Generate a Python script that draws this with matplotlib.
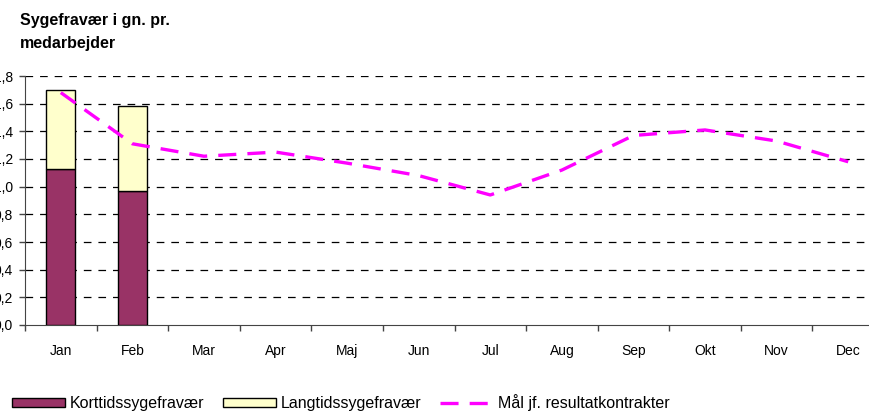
#!/usr/bin/env python3
import matplotlib
matplotlib.use("Agg")
import matplotlib.pyplot as plt
import numpy as np

# Data (sick days per employee)
months = ["Jan", "Feb", "Mar", "Apr", "Maj", "Jun", "Jul", "Aug", "Sep", "Okt", "Nov", "Dec"]
korttid = [1.13, 0.97]   # short-term absence (only Jan, Feb reported)
langtid = [0.57, 0.61]   # long-term absence
maal = [1.68, 1.31, 1.22, 1.25, 1.17, 1.08, 0.94, 1.12, 1.37, 1.41, 1.33, 1.18]
yticks = [0.0, 0.2, 0.4, 0.6, 0.8, 1.0, 1.2, 1.4, 1.6, 1.8]

C_KORT = "#993366"
C_LANG = "#FFFFCC"
C_MAAL = "#FF00FF"


def main():
    plt.rcParams["font.family"] = ["Liberation Sans", "DejaVu Sans"]
    plt.rcParams["lines.scale_dashes"] = False

    fig = plt.figure(figsize=(8.69, 4.12), dpi=100)
    # plot area runs slightly past both figure edges, like the cropped original
    ax = fig.add_axes([25 / 869, 87 / 412, 859 / 869, 249 / 412])

    x = np.arange(len(months))
    xb = x[:len(korttid)]

    b1 = ax.bar(xb, korttid, width=0.41, color=C_KORT, edgecolor="black", linewidth=1,
                label="Korttidssygefravær", zorder=3)
    b2 = ax.bar(xb, langtid, width=0.41, bottom=korttid, color=C_LANG, edgecolor="black",
                linewidth=1, label="Langtidssygefravær", zorder=3)
    l1, = ax.plot(x, maal, color=C_MAAL, linewidth=2.4, dashes=(13, 8),
                  label="Mål jf. resultatkontrakter", zorder=4)

    ax.set_xlim(-0.5, len(months) - 0.5)
    ax.set_ylim(0, 1.8)
    ax.set_yticks(yticks)
    ax.set_yticklabels([f"{v:.1f}".replace(".", ",") for v in yticks], fontsize=10)

    # category labels centred, tick marks on the boundaries
    ax.set_xticks(x)
    ax.set_xticklabels(months, fontsize=10)
    ax.set_xticks(np.arange(-0.5, len(months), 1.0), minor=True)
    ax.tick_params(axis="x", which="major", length=0, pad=14)
    ax.tick_params(axis="x", which="minor", length=4, width=1, color="#444444")
    ax.tick_params(axis="y", length=4, width=1, pad=4.5, color="#444444")

    for v in yticks[1:]:
        ax.axhline(v, color="black", linewidth=0.9, dashes=(5.5, 5), zorder=1)

    for side in ["top", "right"]:
        ax.spines[side].set_visible(False)
    ax.spines["left"].set_color("#444444")
    ax.spines["bottom"].set_color("#444444")

    # two-line title, top left
    fig.text(20 / 869, 1 - 25 / 412, "Sygefravær i gn. pr.", fontsize=11.5,
             fontweight="bold", va="baseline", ha="left")
    fig.text(20 / 869, 1 - 48 / 412, "medarbejder", fontsize=11.5,
             fontweight="bold", va="baseline", ha="left")

    fig.legend(handles=[b1, b2, l1], loc="center left", bbox_to_anchor=(12 / 869, 9 / 412),
               ncol=3, frameon=False, fontsize=11.5, handlelength=3.3, handleheight=0.5,
               handletextpad=0.3, columnspacing=1.2, borderpad=0, borderaxespad=0)

    fig.savefig("out.png", dpi=100)


if __name__ == "__main__":
    main()
